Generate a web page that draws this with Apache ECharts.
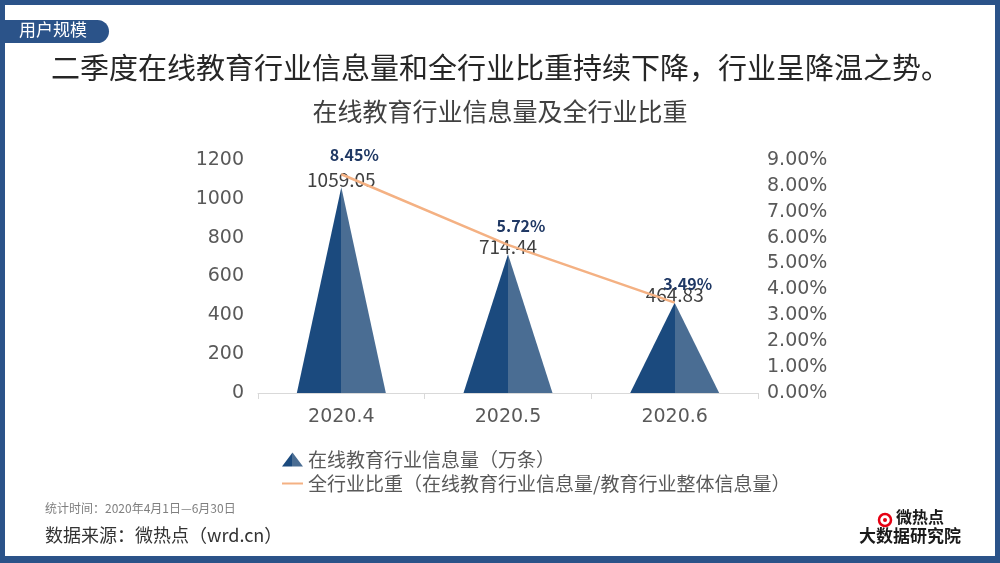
<!DOCTYPE html>
<html><head><meta charset="utf-8">
<script src="https://cdn.jsdelivr.net/npm/echarts@6/dist/echarts.min.js"></script>
<style>html,body{margin:0;padding:0;background:#fff}#c{width:1000px;height:563px}</style>
</head><body><div id="c"></div>
<script>
const categories = ['2020.4', '2020.5', '2020.6'];
const infoVolume = [1059.05, 714.44, 464.83];
const sharePct = [8.45, 5.72, 3.49];
const leftTicks = {min: 0, max: 1200, interval: 200};
const rightTicks = {min: 0, max: 9, interval: 1};
const seriesNames = ['在线教育行业信息量（万条）', '全行业比重（在线教育行业信息量/教育行业整体信息量）'];

const FONT = '"Noto Sans CJK SC", "Noto Sans", sans-serif';
const NUMFONT = '"DejaVu Sans", sans-serif';
const frameColor = '#2b5389';
const dark = '#1b4a7e', light = '#4a6d93';
const triColor = {type:'linear', x:0, y:0, x2:1, y2:0, colorStops:[
  {offset:0, color:dark},{offset:0.5, color:dark},{offset:0.5, color:light},{offset:1, color:light}]};

const chart = echarts.init(document.getElementById('c'));
chart.setOption({
  backgroundColor: '#fff',
  textStyle: {fontFamily: FONT},
  animation: false,
  title: [
    {text: '二季度在线教育行业信息量和全行业比重持续下降，行业呈降温之势。', left: 46, top: 48,
     textStyle: {fontFamily: FONT, fontSize: 29, fontWeight: 'normal', color: '#262626'}},
    {text: '在线教育行业信息量及全行业比重', left: 'center', top: 94,
     textStyle: {fontFamily: FONT, fontSize: 25, fontWeight: 'normal', color: '#404040'}}
  ],
  grid: {left: 258, right: 242, top: 160, bottom: 170},
  legend: {
    orient: 'vertical', left: 277, top: 445, itemGap: 5, itemWidth: 21, itemHeight: 14,
    textStyle: {fontFamily: FONT, fontSize: 19, color: '#595959'},
    data: [
      {name: seriesNames[0], icon: 'path://M0,14 L10.5,0 L21,14 Z', itemStyle: {color: triColor}},
      {name: seriesNames[1], icon: 'path://M0,0 L21,0 L21,2 L0,2 Z'}
    ]
  },
  xAxis: {
    type: 'category', data: categories,
    axisLine: {lineStyle: {color: '#d9d9d9'}},
    axisTick: {show: true, length: 6, lineStyle: {color: '#d9d9d9'}},
    axisLabel: {fontFamily: NUMFONT, fontSize: 19, color: '#595959', margin: 15}
  },
  yAxis: [
    {type: 'value', min: leftTicks.min, max: leftTicks.max, interval: leftTicks.interval,
     splitLine: {show: false}, axisLine: {show: false}, axisTick: {show: false},
     axisLabel: {fontFamily: NUMFONT, fontSize: 19, color: '#595959', margin: 14, padding: [4, 0, 0, 0],
       formatter: v => String(v)}},
    {type: 'value', min: rightTicks.min, max: rightTicks.max, interval: rightTicks.interval,
     splitLine: {show: false}, axisLine: {show: false}, axisTick: {show: false},
     axisLabel: {fontFamily: NUMFONT, fontSize: 19, color: '#595959', margin: 9, padding: [4, 0, 0, 0],
       formatter: v => v.toFixed(2) + '%'}}
  ],
  series: [
    {name: seriesNames[0], type: 'pictorialBar', yAxisIndex: 0, data: infoVolume,
     symbol: 'path://M0,10 L5,0 L10,10 Z', symbolSize: [89, '100%'], barWidth: 89,
     itemStyle: {color: triColor},
     label: {show: true, position: 'top', distance: -2, color: '#404040', fontSize: 19, fontFamily: FONT}},
    {name: seriesNames[1], type: 'line', yAxisIndex: 1, data: sharePct,
     symbol: 'circle', symbolSize: 0.01, showSymbol: true, lineStyle: {color: '#f4b183', width: 2.5},
     itemStyle: {color: '#f4b183'},
     label: {show: true, position: 'top', distance: 8, offset: [13, -3], color: '#1f3864', fontWeight: 'bold',
       fontSize: 16, fontFamily: FONT, formatter: p => p.value.toFixed(2) + '%'}}
  ],
  graphic: [
    {type: 'rect', shape: {x: 0, y: 0, width: 1000, height: 5}, style: {fill: frameColor}},
    {type: 'rect', shape: {x: 0, y: 556, width: 1000, height: 7}, style: {fill: frameColor}},
    {type: 'rect', shape: {x: 0, y: 0, width: 5, height: 563}, style: {fill: frameColor}},
    {type: 'rect', shape: {x: 995, y: 0, width: 5, height: 563}, style: {fill: frameColor}},
    {type: 'rect', shape: {x: 5, y: 20, width: 104, height: 23, r: [0, 12, 12, 0]}, style: {fill: frameColor}},
    {type: 'text', left: 19, top: 21, style: {text: '用户规模', fill: '#fff', font: '17px ' + FONT}},
    {type: 'text', left: 45, top: 502, style: {text: '统计时间：2020年4月1日—6月30日', fill: '#7f7f7f', font: '12px ' + FONT}},
    {type: 'text', left: 45, top: 526, style: {text: '数据来源：微热点（wrd.cn）', fill: '#333', font: '18px ' + FONT}},
    {type: 'circle', shape: {cx: 885, cy: 520, r: 6}, style: {fill: 'none', stroke: '#e60012', lineWidth: 2.5}},
    {type: 'circle', shape: {cx: 885, cy: 520, r: 2}, style: {fill: '#e60012'}},
    {type: 'text', left: 896, top: 509, style: {text: '微热点', fill: '#1a1a1a', font: 'bold 16px ' + FONT}},
    {type: 'text', left: 859, top: 527, style: {text: '大数据研究院', fill: '#1a1a1a', font: 'bold 17px ' + FONT}}
  ]
});
</script></body></html>
